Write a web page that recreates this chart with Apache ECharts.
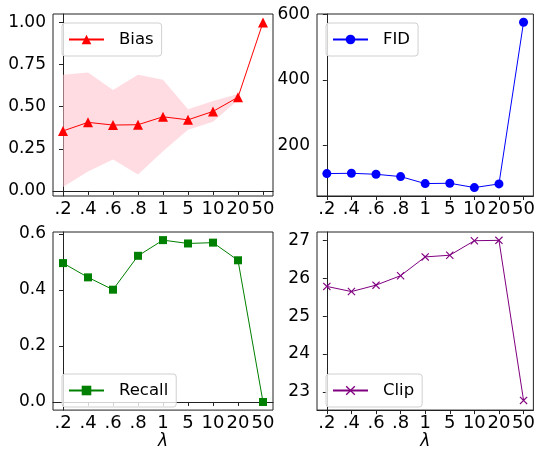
<!DOCTYPE html>
<html>
<head>
<meta charset="utf-8">
<script src="https://cdn.jsdelivr.net/npm/echarts@6/dist/echarts.min.js"></script>
<style>
  html, body { margin: 0; padding: 0; background: #fff; }
  #main { width: 538px; height: 451px; }
</style>
</head>
<body>
<div id="main"></div>
<script>
// lambda values on the x axis
const lambdaLabels = ['.2', '.4', '.6', '.8', '1', '5', '10', '20', '50'];

// series values
const biasValues = [0.356, 0.407, 0.391, 0.393, 0.44, 0.422, 0.472, 0.556, 1.0];
const biasUpper = [0.69, 0.703, 0.599, 0.69, 0.66, 0.485, 0.534, 0.575];
const biasLower = [0.024, 0.116, 0.186, 0.098, 0.236, 0.363, 0.41, 0.54];
const fidValues = [113.6, 114.5, 111.5, 104.4, 83, 84, 70.8, 82, 576.8];
const recallValues = [0.496, 0.445, 0.401, 0.522, 0.578, 0.566, 0.569, 0.506, 0.0];
const clipValues = [25.784, 25.648, 25.818, 26.067, 26.563, 26.607, 26.99, 27.0, 22.776];

// tick values
const biasTicks = [0, 0.25, 0.5, 0.75, 1.0];
const fidTicks = [200, 400, 600];
const recallTicks = [0, 0.2, 0.4, 0.6];
const clipTicks = [23, 24, 25, 26, 27];

const FONT = 'DejaVu Sans';
const xIdx = lambdaLabels.map((_, i) => i);
const pairs = vals => vals.map((v, i) => [i, v]);

const chart = echarts.init(document.getElementById('main'), null, { renderer: 'canvas' });

const grids = [
  { left: 53, top: 14, width: 220, height: 182 },
  { left: 317, top: 14, width: 220, height: 182 },
  { left: 53, top: 232, width: 220, height: 182 },
  { left: 317, top: 232, width: 220, height: 182 }
].map(g => Object.assign(g, { show: true, borderColor: '#222', borderWidth: 1, backgroundColor: 'transparent' }));

function xAxis(i, withName) {
  return {
    type: 'value', gridIndex: i, min: -0.4, max: 8.4,
    name: withName ? 'λ' : '',
    nameLocation: 'middle', nameGap: 21,
    nameTextStyle: { fontFamily: FONT, fontSize: 17, fontStyle: 'italic', color: '#000' },
    axisLine: { show: true, lineStyle: { color: '#222', width: 1 } },
    axisTick: { show: true, length: 4, lineStyle: { color: '#222' }, customValues: xIdx },
    axisLabel: {
      customValues: xIdx, margin: 4,
      formatter: v => lambdaLabels[Math.round(v)],
      fontFamily: FONT, fontSize: 18, color: '#000'
    },
    splitLine: { show: false }
  };
}

function yAxis(i, min, max, ticks, fmt) {
  return {
    type: 'value', gridIndex: i, min: min, max: max,
    axisLine: { show: true, lineStyle: { color: '#222', width: 1 } },
    axisTick: { show: true, length: 4, lineStyle: { color: '#222' }, customValues: ticks },
    axisLabel: {
      customValues: ticks, margin: 7, formatter: fmt,
      fontFamily: FONT, fontSize: 17, color: '#000'
    },
    splitLine: { show: false }
  };
}

const crossPath = 'path://M0,1L1,0L5,4L9,0L10,1L6,5L10,9L9,10L5,6L1,10L0,9L4,5Z';

function lineSeries(name, i, vals, color, symbol, size) {
  return {
    name: name, type: 'line', xAxisIndex: i, yAxisIndex: i,
    data: pairs(vals), symbol: symbol, symbolSize: size,
    showAllSymbol: true,
    lineStyle: { color: color, width: 1 },
    itemStyle: { color: color },
    emphasis: { disabled: true },
    z: 5
  };
}

function legend(name, left, top) {
  return {
    data: [name], left: left, top: top,
    orient: 'vertical',
    padding: [8, 8, 8, 6],
    itemWidth: 35, itemHeight: 12,
    borderColor: '#d0d0d0', borderWidth: 1, borderRadius: 3,
    backgroundColor: 'rgba(255,255,255,0.8)',
    textStyle: { fontFamily: FONT, fontSize: 16.5, color: '#000', padding: [0, 0, 0, 10] }
  };
}

chart.setOption({
  animation: false,
  backgroundColor: '#fff',
  grid: grids,
  xAxis: [xAxis(0, false), xAxis(1, false), xAxis(2, true), xAxis(3, true)],
  yAxis: [
    yAxis(0, -0.03, 1.05, biasTicks, v => v.toFixed(2)),
    yAxis(1, 45, 602, fidTicks, v => String(v)),
    yAxis(2, -0.029, 0.607, recallTicks, v => v.toFixed(1)),
    yAxis(3, 22.52, 27.22, clipTicks, v => String(v))
  ],
  legend: [
    legend('Bias', 62, 23),
    legend('FID', 326, 23),
    legend('Recall', 62, 374),
    legend('Clip', 326, 374)
  ],
  series: [
    {
      // shaded band between lower and upper bias
      name: 'band', type: 'custom', xAxisIndex: 0, yAxisIndex: 0,
      data: [[0, 0]], silent: true, z: 1,
      renderItem: (params, api) => {
        const top = biasUpper.map((u, i) => api.coord([i, u]));
        const bottom = biasLower.map((l, i) => api.coord([i, l])).reverse();
        return {
          type: 'polygon',
          shape: { points: top.concat(bottom) },
          style: { fill: 'rgba(255,192,203,0.55)' }
        };
      }
    },
    lineSeries('Bias', 0, biasValues, '#ff0000', 'triangle', 10),
    lineSeries('FID', 1, fidValues, '#0000ff', 'circle', 9),
    lineSeries('Recall', 2, recallValues, '#008000', 'rect', 8),
    lineSeries('Clip', 3, clipValues, '#800080', crossPath, 8)
  ]
});

window.addEventListener('resize', () => chart.resize());
</script>
</body>
</html>
